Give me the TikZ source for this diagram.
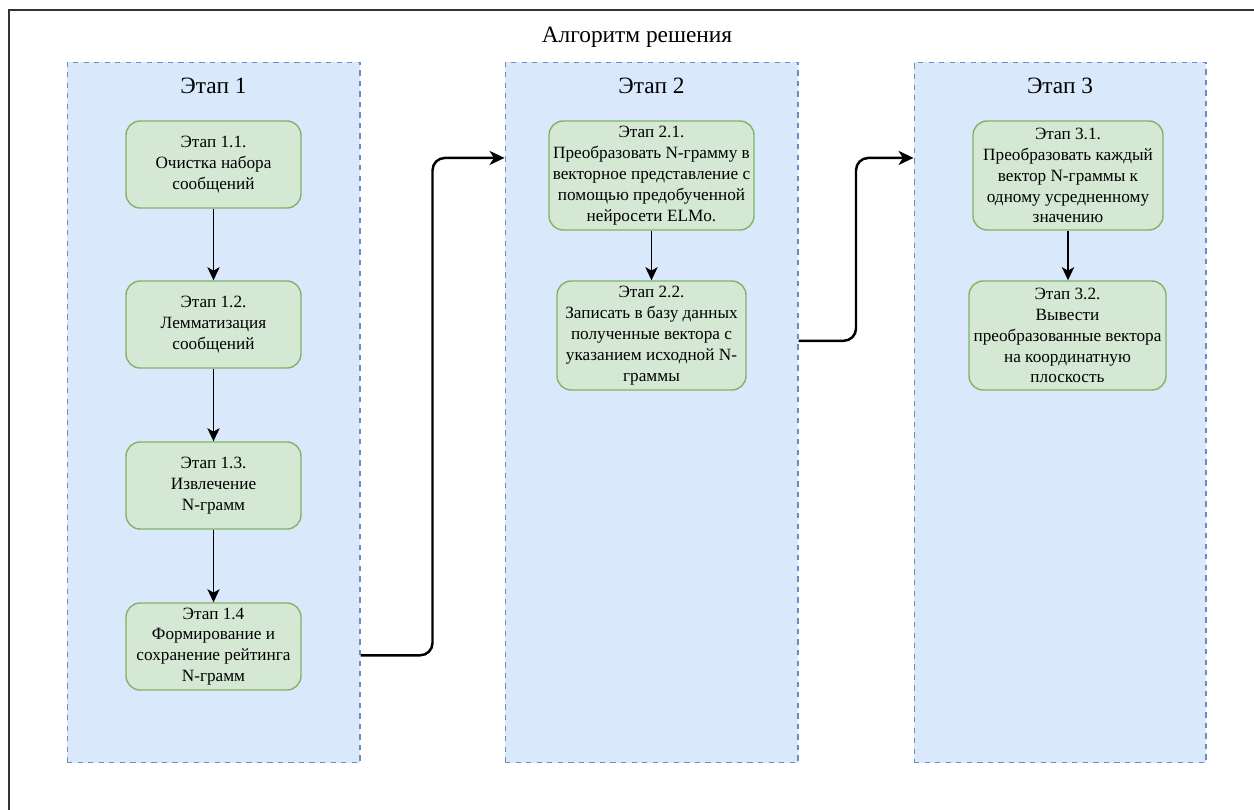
\documentclass[tikz,border=0pt]{standalone}
\usepackage{fontspec}
\setmainfont{Liberation Serif}
\usetikzlibrary{arrows.meta, calc}

\definecolor{stagefill}{HTML}{DAE8FC}
\definecolor{stagedraw}{HTML}{6C8EBF}
\definecolor{boxfill}{HTML}{D5E8D4}
\definecolor{boxdraw}{HTML}{82B366}
\definecolor{framecol}{HTML}{333333}

\tikzset{
    stage/.style={draw=stagedraw, fill=stagefill, dashed, line width=0.6pt, minimum height=14.02cm},
    stepbox/.style={draw=boxdraw, fill=boxfill, line width=0.8pt, rounded corners=8pt, align=center,
        inner sep=1pt, minimum height=1.74cm, font=\fontsize{9.8}{11.9}\selectfont},
    link/.style={black, line width=0.8pt, -{Stealth[length=7.5pt, width=7pt, inset=2pt]}},
    conn/.style={black, line width=1.4pt, -{Stealth[length=8.5pt, width=8pt, inset=2.5pt]}, rounded corners=7pt},
    caption/.style={font=\fontsize{13.3}{16}\selectfont}
}

\begin{document}
\begin{tikzpicture}[x=0.02cm, y=-0.02cm]
            \useasboundingbox (0,0) rectangle (1254,809);
            \draw[framecol, line width=1.3pt] (9,830) |- (1270,10);% outer frame

            \node[caption] (title) at (637,37) {Алгоритм решения};

            % stages
            \node[stage, minimum width=5.86cm] (st1) at (213.5,412.5) {};
            \node[stage, minimum width=5.86cm] (st2) at (651.5,412.5) {};
            \node[stage, minimum width=5.84cm] (st3) at (1060,412.5) {};
            \node[caption] (t1) at (213.5,86) {Этап 1};
            \node[caption] (t2) at (651.5,86) {Этап 2};
            \node[caption] (t3) at (1060,86) {Этап 3};

            % stage 1
            \node[stepbox, minimum width=3.5cm] (n11) at (213.5,164.5) {Этап 1.1.\\Очистка набора\\сообщений};
            \node[stepbox, minimum width=3.5cm] (n12) at (213.5,324.5) {Этап 1.2.\\Лемматизация\\сообщений};
            \node[stepbox, minimum width=3.5cm] (n13) at (213.5,485.5) {Этап 1.3.\\Извлечение\\N-грамм};
            \node[stepbox, minimum width=3.5cm] (n14) at (213.5,646.5) {Этап 1.4\\Формирование и\\сохранение рейтинга\\N-грамм};

            % stage 2
            \node[stepbox, minimum width=4.1cm, minimum height=2.18cm] (n21) at (651.5,175.5) {Этап 2.1.\\Преобразовать N-грамму в\\векторное представление с\\помощью предобученной\\нейросети ELMo.};
            \node[stepbox, minimum width=3.78cm, minimum height=2.18cm] (n22) at (651.5,335.5) {Этап 2.2.\\Записать в базу данных\\полученные вектора с\\указанием исходной N-\\граммы};

            % stage 3
            \node[stepbox, minimum width=3.8cm, minimum height=2.18cm] (n31) at (1068,175.5) {Этап 3.1.\\Преобразовать каждый\\вектор N-граммы к\\одному усредненному\\значению};
            \node[stepbox, minimum width=3.94cm, minimum height=2.18cm] (n32) at (1067.5,335.5) {Этап 3.2.\\Вывести\\преобразованные вектора\\на координатную\\плоскость};

            \draw[link] (n11) -- (n12);
            \draw[link] (n12) -- (n13);
            \draw[link] (n13) -- (n14);
            \draw[link] (n21) -- (n22);
            \draw[link] (n31.south) -- (n31.south |- n32.north);

            % between stages
            \coordinate (a1) at ([yshift=-5pt]n14.east -| st1.east);
            \coordinate (b1) at ([yshift=10pt]n21.west -| st2.west);
            \draw[conn] (a1) -| ($(a1)!.5!(b1)$) |- (b1);
            \coordinate (a2) at ([yshift=-3pt]n22.east -| st2.east);
            \coordinate (b2) at ([yshift=10pt]n31.west -| st3.west);
            \draw[conn] (a2) -| ($(a2)!.5!(b2)$) |- (b2);
        \end{tikzpicture}
\end{document}
